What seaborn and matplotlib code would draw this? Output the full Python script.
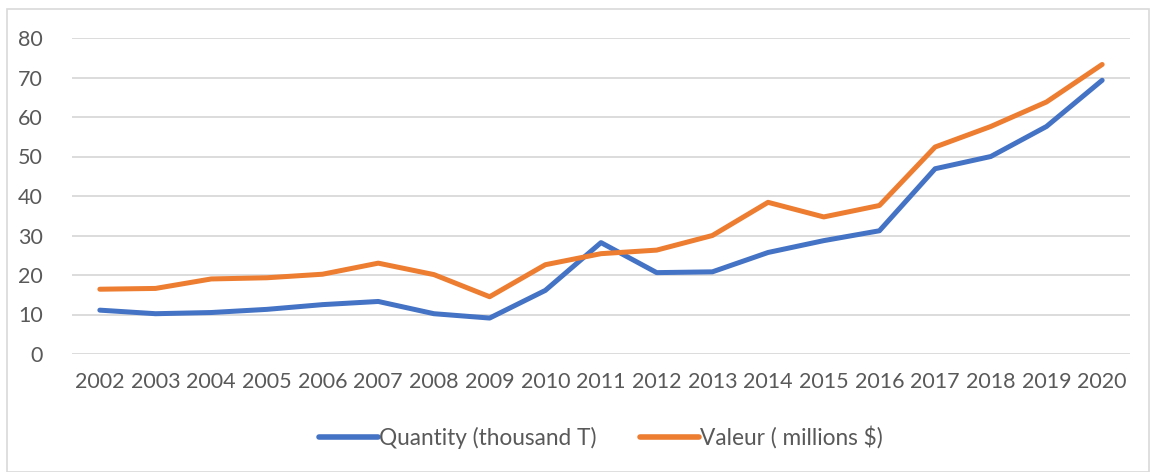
import numpy as np
import pandas as pd
import matplotlib
matplotlib.use("Agg")
import matplotlib.pyplot as plt
import seaborn as sns
from matplotlib.patches import Rectangle

years = [str(y) for y in range(2002, 2021)]
quantity = [11.1, 10.2, 10.5, 11.3, 12.5, 13.3, 10.2, 9.1, 16.1, 28.2,
            20.6, 20.8, 25.7, 28.7, 31.2, 46.9, 50.0, 57.6, 69.3]
valeur = [16.4, 16.6, 19.0, 19.3, 20.2, 23.0, 20.1, 14.5, 22.6, 25.4,
          26.3, 30.0, 38.4, 34.7, 37.6, 52.4, 57.6, 63.8, 73.3]
series_names = ["Quantity (thousand T)", "Valeur ( millions $)"]
colors = ["#4472C4", "#ED7D31"]

df = pd.DataFrame({
    "year": years * 2,
    "value": quantity + valeur,
    "series": [series_names[0]] * len(years) + [series_names[1]] * len(years),
})

sns.set_theme(style="white")
plt.rcParams["font.family"] = ["Lato", "DejaVu Sans"]
text_color = "#595959"

fig = plt.figure(figsize=(11.5, 4.72), dpi=100)
ax = fig.add_axes([72 / 1150, 1 - 354 / 472, (1130 - 72) / 1150, (354 - 38) / 472])

df["xpos"] = df["year"].map({y: i for i, y in enumerate(years)})
sns.lineplot(data=df, x="xpos", y="value", hue="series", palette=colors,
             linewidth=3.6, ax=ax, legend=True, solid_capstyle="round",
             solid_joinstyle="round")

ax.set_xlim(-0.5, len(years) - 0.5)
ax.set_ylim(0, 80)
ax.set_yticks(range(0, 81, 10))
ax.set_xticks(range(len(years)))
ax.set_xticklabels(years)
ax.set_xlabel("")
ax.set_ylabel("")
ax.yaxis.grid(True, color="#D9D9D9", linewidth=1.3)
ax.xaxis.grid(False)
for s in ax.spines.values():
    s.set_visible(False)
ax.tick_params(axis="both", colors=text_color, labelsize=15.5, length=0)
ax.tick_params(axis="y", pad=21)
ax.tick_params(axis="x", pad=13)

handles, labels = ax.get_legend_handles_labels()
leg = ax.legend(handles, labels, loc="center", bbox_to_anchor=(0.5, -0.263),
                ncol=2, frameon=False, fontsize=16.3, handlelength=2.6,
                handletextpad=0.05, columnspacing=1.9, labelcolor=text_color)
for h in leg.get_lines():
    h.set_linewidth(4)
    h.set_solid_capstyle("round")

fig.patches.append(Rectangle((7 / 1150, 0.5 / 472), 1142 / 1150, 463 / 472,
                             transform=fig.transFigure, fill=False,
                             edgecolor="#D9D9D9", linewidth=1.2))

fig.savefig("out.png", dpi=100)
